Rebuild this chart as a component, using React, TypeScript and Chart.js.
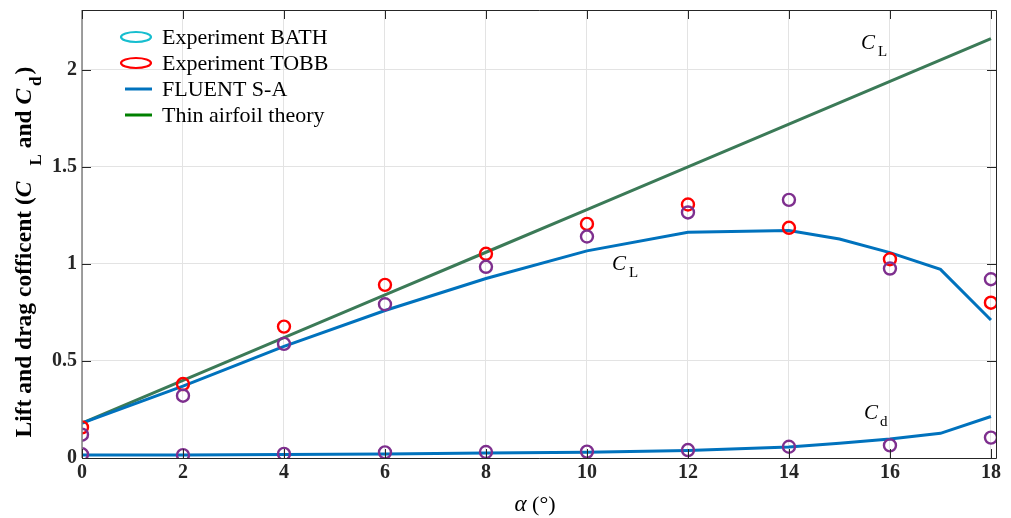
import React, { useEffect, useRef } from "react";
import { Chart, registerables } from "chart.js";

Chart.register(...registerables);

// Angle of attack (deg)
const alphaExp = [0, 2, 4, 6, 8, 10, 12, 14, 16, 18];
const alphaFluent = [0, 2, 4, 6, 8, 10, 12, 14, 15, 16, 17, 18];
const alphaThin = [0, 2, 4, 6, 8, 10, 12, 14, 16, 18];

// Experiment BATH
const bathCL = [0.12, 0.321, 0.588, 0.792, 0.985, 1.141, 1.265, 1.33, 0.976, 0.921];
const bathCd = [0.019, 0.015, 0.021, 0.029, 0.031, 0.033, 0.041, 0.058, 0.065, 0.105];
// Experiment TOBB
const tobbCL = [0.158, 0.381, 0.677, 0.892, 1.052, 1.206, 1.306, 1.186, 1.024, 0.8];
// FLUENT S-A
const fluentCL = [0.18, 0.37, 0.575, 0.76, 0.925, 1.067, 1.163, 1.172, 1.128, 1.058, 0.972, 0.711];
const fluentCd = [0.015, 0.016, 0.018, 0.021, 0.026, 0.029, 0.038, 0.057, 0.076, 0.098, 0.127, 0.214];
// Thin airfoil theory
const thinCL = [0.18, 0.4, 0.62, 0.84, 1.06, 1.28, 1.5, 1.72, 1.94, 2.16];

const xTicks = [0, 2, 4, 6, 8, 10, 12, 14, 16, 18];
const yTicks = [0, 0.5, 1, 1.5, 2];
const yTickLabels = ["0", "0.5", "1", "1.5", "2"];

const legendItems = [
  { label: "Experiment BATH", color: "#17BECF", kind: "ring" },
  { label: "Experiment TOBB", color: "#FF0000", kind: "ring" },
  { label: "FLUENT S-A", color: "#0072BD", kind: "line" },
  { label: "Thin airfoil theory", color: "#008000", kind: "line" },
];

const SERIF = "'Liberation Serif', 'Times New Roman', serif";
const PURPLE = "#7E2F8E";
const RED = "#FF0000";
const BLUE = "#0072BD";
const GREEN = "#3B7A57";

const pts = (xs: number[], ys: number[]) => xs.map((x, i) => ({ x, y: ys[i] }));

type Run = { text: string; font: string; dy?: number; dx?: number };

function drawRuns(ctx: CanvasRenderingContext2D, runs: Run[], x: number, y: number, align: "left" | "center") {
  ctx.textAlign = "left";
  ctx.textBaseline = "alphabetic";
  let total = 0;
  const widths = runs.map((r) => {
    ctx.font = r.font;
    const w = ctx.measureText(r.text).width + (r.dx || 0);
    total += w;
    return w;
  });
  let cx = align === "center" ? x - total / 2 : x;
  runs.forEach((r, i) => {
    ctx.font = r.font;
    ctx.fillText(r.text, cx + (r.dx || 0), y + (r.dy || 0));
    cx += widths[i];
  });
}

const decorations = {
  id: "decorations",
  afterDatasetsDraw(chart: any) {
    const { ctx, chartArea, scales } = chart;
    const { left, right, top, bottom } = chartArea;
    const xs = scales.x;
    const ys = scales.y;
    ctx.save();

    // frame
    ctx.lineWidth = 1;
    ctx.strokeStyle = "#262626";
    ctx.beginPath();
    ctx.moveTo(left, top + 0.5);
    ctx.lineTo(right + 0.5, top + 0.5);
    ctx.lineTo(right + 0.5, bottom + 0.5);
    ctx.lineTo(left, bottom + 0.5);
    ctx.stroke();
    ctx.strokeStyle = "#808080";
    ctx.lineWidth = 1.5;
    ctx.beginPath();
    ctx.moveTo(left, top);
    ctx.lineTo(left, bottom);
    ctx.stroke();

    // inward tick marks
    const tl = 9;
    ctx.strokeStyle = "#262626";
    ctx.lineWidth = 1;
    ctx.beginPath();
    xTicks.forEach((v) => {
      const px = Math.round(xs.getPixelForValue(v)) + 0.5;
      ctx.moveTo(px, bottom);
      ctx.lineTo(px, bottom - tl);
      ctx.moveTo(px, top);
      ctx.lineTo(px, top + tl);
    });
    yTicks.forEach((v) => {
      const py = Math.round(ys.getPixelForValue(v)) + 0.5;
      ctx.moveTo(left, py);
      ctx.lineTo(left + tl, py);
      ctx.moveTo(right, py);
      ctx.lineTo(right - tl, py);
    });
    ctx.stroke();

    // legend
    ctx.fillStyle = "#000";
    legendItems.forEach((it, i) => {
      const cy = 37 + i * 26;
      ctx.strokeStyle = it.color;
      if (it.kind === "ring") {
        ctx.lineWidth = 2.2;
        ctx.beginPath();
        ctx.ellipse(136, cy, 15, 5, 0, 0, Math.PI * 2);
        ctx.stroke();
      } else {
        ctx.lineWidth = 3;
        ctx.beginPath();
        ctx.moveTo(125, cy);
        ctx.lineTo(152, cy);
        ctx.stroke();
      }
      ctx.font = `22px ${SERIF}`;
      ctx.textAlign = "left";
      ctx.textBaseline = "middle";
      ctx.fillText(it.label, 162, cy + 1);
    });

    // curve labels
    const cFont = `italic 21px ${SERIF}`;
    const sFont = `15px ${SERIF}`;
    drawRuns(ctx, [{ text: "C", font: cFont }, { text: "L", font: sFont, dy: 7, dx: 3 }], 861, 49, "left");
    drawRuns(ctx, [{ text: "C", font: cFont }, { text: "L", font: sFont, dy: 7, dx: 3 }], 612, 270, "left");
    drawRuns(ctx, [{ text: "C", font: cFont }, { text: "d", font: sFont, dy: 7, dx: 2 }], 864, 419, "left");

    // x-axis title
    drawRuns(
      ctx,
      [
        { text: "\u03B1", font: `italic 23px ${SERIF}` },
        { text: " (\u00B0)", font: `22px ${SERIF}` },
      ],
      535,
      511,
      "center"
    );

    // y-axis title
    ctx.translate(31, 252);
    ctx.rotate(-Math.PI / 2);
    const b = `bold 23.5px ${SERIF}`;
    const bi = `bold italic 23.5px ${SERIF}`;
    const bs = `bold 17px ${SERIF}`;
    drawRuns(
      ctx,
      [
        { text: "Lift and drag cofficent (", font: b },
        { text: "C", font: bi },
        { text: "L", font: bs, dy: 10, dx: 16 },
        { text: " and ", font: b },
        { text: "C", font: bi },
        { text: "d", font: bs, dy: 10, dx: 3 },
        { text: ")", font: b, dx: 2 },
      ],
      0,
      0,
      "center"
    );
    ctx.restore();
  },
};

export default function App() {
  const ref = useRef<HTMLCanvasElement | null>(null);

  useEffect(() => {
    if (!ref.current) return;
    const ring = (color: string, order: number, label: string, data: any[]) => ({
      type: "scatter" as const,
      label,
      data,
      showLine: false,
      pointStyle: "circle",
      pointRadius: 6,
      pointBorderWidth: 2.4,
      pointBorderColor: color,
      pointBackgroundColor: "rgba(0,0,0,0)",
      borderColor: color,
      order,
    });
    const line = (color: string, order: number, label: string, data: any[]) => ({
      type: "line" as const,
      label,
      data,
      borderColor: color,
      borderWidth: 3,
      pointRadius: 0,
      fill: false,
      tension: 0,
      order,
    });

    const chart = new Chart(ref.current, {
      type: "scatter",
      data: {
        datasets: [
          ring(PURPLE, 0, "Experiment BATH", pts(alphaExp, bathCL)),
          ring(PURPLE, 0, "Experiment BATH Cd", pts(alphaExp, bathCd)),
          ring(RED, 1, "Experiment TOBB", pts(alphaExp, tobbCL)),
          line(BLUE, 2, "FLUENT S-A", pts(alphaFluent, fluentCL)),
          line(BLUE, 2, "FLUENT S-A Cd", pts(alphaFluent, fluentCd)),
          line(GREEN, 3, "Thin airfoil theory", pts(alphaThin, thinCL)),
        ] as any,
      },
      options: {
        responsive: false,
        animation: false,
        layout: { padding: { top: 10, right: 15, left: 0, bottom: 0 } },
        plugins: { legend: { display: false }, tooltip: { enabled: false } },
        scales: {
          x: {
            type: "linear",
            min: 0,
            max: 18.1,
            afterBuildTicks: (s: any) => {
              s.ticks = xTicks.map((v) => ({ value: v }));
            },
            afterFit: (s: any) => {
              s.height = 60;
              s.paddingLeft = 0;
              s.paddingRight = 0;
            },
            grid: { color: "#e3e3e3", lineWidth: 1, drawTicks: false },
            border: { display: false },
            ticks: {
              padding: 3,
              color: "#262626",
              font: { family: SERIF, size: 20, weight: "bold" },
              callback: (v: any) => String(v),
            },
          },
          y: {
            type: "linear",
            min: 0,
            max: 2.308,
            afterBuildTicks: (s: any) => {
              s.ticks = yTicks.map((v) => ({ value: v }));
            },
            afterFit: (s: any) => {
              s.width = 82;
              s.paddingTop = 0;
              s.paddingBottom = 0;
            },
            grid: { color: "#e3e3e3", lineWidth: 1, drawTicks: false },
            border: { display: false },
            ticks: {
              padding: 5,
              color: "#262626",
              font: { family: SERIF, size: 20, weight: "bold" },
              callback: (v: any) => yTickLabels[yTicks.indexOf(Number(v))] ?? "",
            },
          },
        },
      },
      plugins: [decorations],
    });
    return () => chart.destroy();
  }, []);

  return (
    <div style={{ position: "fixed", left: 0, top: 0, width: 1011, height: 518, background: "#fff" }}>
      <canvas ref={ref} width={1011} height={518} style={{ display: "block" }} />
    </div>
  );
}
